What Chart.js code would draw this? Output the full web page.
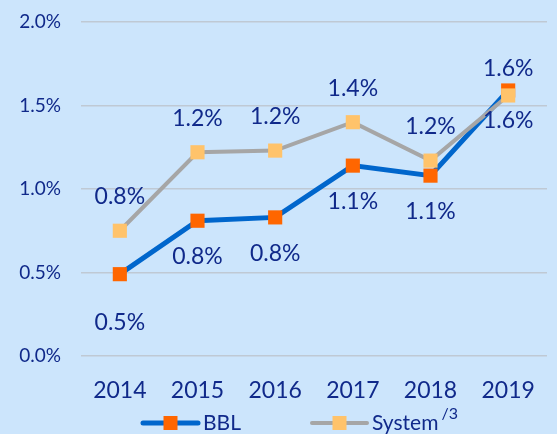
<!DOCTYPE html>
<html>
<head>
<meta charset="utf-8">
<script src="https://cdn.jsdelivr.net/npm/chart.js@4/dist/chart.umd.min.js"></script>
<style>
  html, body { margin: 0; padding: 0; background: #cce5fc; }
  #wrap { width: 557px; height: 434px; }
</style>
</head>
<body>
<div id="wrap"><canvas id="c" width="557" height="434"></canvas></div>
<script>
const years = ['2014', '2015', '2016', '2017', '2018', '2019'];
const bblValues = [0.49, 0.81, 0.83, 1.14, 1.08, 1.59];
const systemValues = [0.75, 1.22, 1.23, 1.40, 1.17, 1.56];
const bblLabels = ['0.5%', '0.8%', '0.8%', '1.1%', '1.1%', '1.6%'];
const systemLabels = ['0.8%', '1.2%', '1.2%', '1.4%', '1.2%', '1.6%'];
const yTicks = [0, 0.5, 1.0, 1.5, 2.0];

const TEXT = '#10298a';
const FONT = 'Lato, "Noto Sans", sans-serif';

// label placement for each point: 'up' or 'down'
const bblPlace = ['down', 'down', 'down', 'down', 'down', 'up'];
const systemPlace = ['up', 'up', 'up', 'up', 'up', 'down'];

const pointLabels = {
  id: 'pointLabels',
  afterDatasetsDraw(chart) {
    const ctx = chart.ctx;
    ctx.save();
    ctx.font = '23px ' + FONT;
    ctx.fillStyle = TEXT;
    ctx.textAlign = 'center';
    ctx.textBaseline = 'middle';
    const sets = [[bblLabels, bblPlace], [systemLabels, systemPlace]];
    chart.data.datasets.forEach((ds, i) => {
      const meta = chart.getDatasetMeta(i);
      const [labels, place] = sets[i];
      meta.data.forEach((pt, j) => {
        let dy = place[j] === 'up' ? -34 : 36;
        if (i === 0 && j === 0) dy = 48;
        if (i === 0 && j === 5) dy = -22;
        if (i === 1 && j === 5) dy = 25;
        ctx.fillText(labels[j], pt.x, pt.y + dy);
      });
    });
    ctx.restore();
  }
};

const customLegend = {
  id: 'customLegend',
  afterDraw(chart) {
    const ctx = chart.ctx;
    const y = 423;
    const items = [
      { x: 143, line: '#0066cc', lw: 5, mark: '#ff6600', text: 'BBL', sup: '' },
      { x: 312, line: '#a6a6a6', lw: 4, mark: '#ffc36b', text: 'System', sup: '/3' }
    ];
    ctx.save();
    items.forEach(it => {
      ctx.strokeStyle = it.line;
      ctx.lineWidth = it.lw;
      ctx.lineCap = 'round';
      ctx.beginPath();
      ctx.moveTo(it.x, y);
      ctx.lineTo(it.x + 55, y);
      ctx.stroke();
      ctx.fillStyle = it.mark;
      ctx.fillRect(it.x + 27.5 - 7, y - 7, 14, 14);
      ctx.fillStyle = TEXT;
      ctx.font = '21px ' + FONT;
      ctx.textAlign = 'left';
      ctx.textBaseline = 'middle';
      ctx.fillText(it.text, it.x + 60, y);
      if (it.sup) {
        const w = ctx.measureText(it.text).width;
        ctx.font = '16px ' + FONT;
        ctx.fillText(it.sup, it.x + 60 + w + 3, y - 9);
      }
    });
    ctx.restore();
  }
};

new Chart(document.getElementById('c'), {
  type: 'line',
  data: {
    labels: years,
    datasets: [
      {
        label: 'BBL',
        data: bblValues,
        borderColor: '#0066cc',
        borderWidth: 5,
        pointStyle: 'rect',
        pointRadius: 10,
        pointBackgroundColor: '#ff6600',
        pointBorderWidth: 0,
        tension: 0,
        order: 2
      },
      {
        label: 'System',
        data: systemValues,
        borderColor: '#a6a6a6',
        borderWidth: 4,
        pointStyle: 'rect',
        pointRadius: 10,
        pointBackgroundColor: '#ffc36b',
        pointBorderWidth: 0,
        tension: 0,
        order: 1
      }
    ]
  },
  options: {
    responsive: false,
    animation: false,
    events: [],
    layout: { padding: { top: 22, right: 2, left: 0, bottom: 0 } },
    plugins: {
      legend: { display: false },
      tooltip: { enabled: false }
    },
    scales: {
      x: {
        offset: true,
        grid: { display: false },
        border: { display: false },
        ticks: { color: TEXT, font: { family: FONT, size: 23 }, padding: 13 },
        afterFit(scale) { scale.height = 78; }
      },
      y: {
        min: 0,
        max: 2,
        afterBuildTicks(scale) { scale.ticks = yTicks.map(v => ({ value: v })); },
        grid: { color: '#bfc9d4', lineWidth: 1.5, drawTicks: false },
        border: { display: false },
        ticks: {
          color: TEXT,
          font: { family: FONT, size: 19 },
          padding: 20,
          callback: v => v.toFixed(1) + '%'
        },
        afterFit(scale) {
          scale.width = 81;
          scale.paddingTop = 0;
          scale.paddingBottom = 0;
        }
      }
    }
  },
  plugins: [pointLabels, customLegend]
});
</script>
</body>
</html>
